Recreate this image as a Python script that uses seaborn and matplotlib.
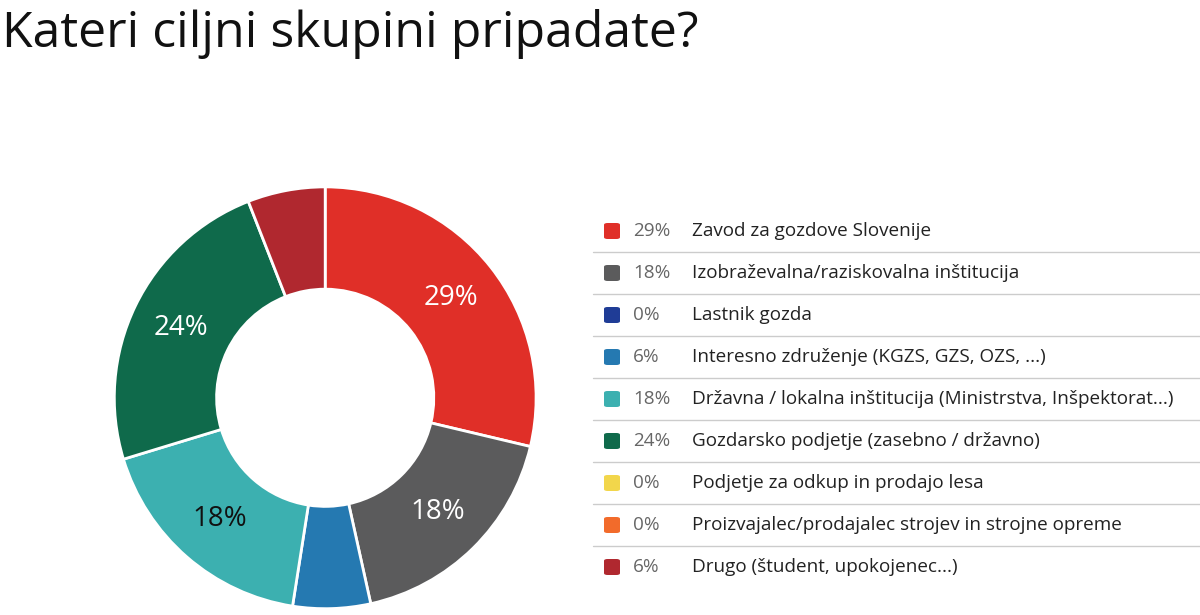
import matplotlib
matplotlib.use("Agg")
import matplotlib.pyplot as plt
import seaborn as sns
import numpy as np

sns.set_theme(style="white")
plt.rcParams['font.family'] = ['Open Sans', 'DejaVu Sans']

# Podatki
categories = ["Zavod za gozdove Slovenije",
              "Izobraževalna/raziskovalna inštitucija",
              "Lastnik gozda",
              "Interesno združenje (KGZS, GZS, OZS, ...)",
              "Državna / lokalna inštitucija (Ministrstva, Inšpektorat...)",
              "Gozdarsko podjetje (zasebno / državno)",
              "Podjetje za odkup in prodajo lesa",
              "Proizvajalec/prodajalec strojev in strojne opreme",
              "Drugo (študent, upokojenec...)"]
values = [29, 18, 0, 6, 18, 24, 0, 0, 6]
colors = ["#e02f28", "#5b5b5c", "#1f3c96", "#2579b1", "#3cb0b0",
          "#0f6a4b", "#f2d64b", "#f26b2b", "#b0282f"]

fig = plt.figure(figsize=(12, 6.15), dpi=100)
fig.text(0.002, 0.945, "Kateri ciljni skupini pripadate?", fontsize=36,
         va="center", ha="left", color="#111111")

# Kolobar
ax = fig.add_axes([0.271 - 0.1775, 0.353 - 0.3463, 0.355, 0.693])
nz = [(v, c) for v, c in zip(values, colors) if v > 0]
wedges, _ = ax.pie([v for v, _ in nz], colors=[c for _, c in nz],
                   startangle=90, counterclock=False,
                   wedgeprops=dict(width=0.485, edgecolor="white", linewidth=2))
ax.set_xlim(-1.01, 1.01)
ax.set_ylim(-1.01, 1.01)
ax.set_aspect("equal")
for w, (v, c) in zip(wedges, nz):
    if v >= 10:
        ang = np.deg2rad((w.theta1 + w.theta2) / 2)
        tc = "#111111" if c == "#3cb0b0" else "white"
        ax.text(0.76 * np.cos(ang), 0.76 * np.sin(ang), f"{v}%",
                ha="center", va="center", fontsize=20, color=tc)

# Legenda
y0 = 615 - 231
for i, (cat, v, c) in enumerate(zip(categories, values, colors)):
    y = (y0 - i * 42) / 615
    fig.patches.append(matplotlib.patches.FancyBboxPatch(
        (604 / 1200, y - 8 / 615), 16 / 1200, 16 / 615,
        boxstyle="round,pad=0,rounding_size=0.003", transform=fig.transFigure,
        facecolor=c, edgecolor="none"))
    fig.text(633 / 1200, y, f"{v}%", fontsize=13.6, va="center", color="#666666")
    fig.text(692 / 1200, y, cat, fontsize=13.6, va="center", color="#222222")
    if i < len(categories) - 1:
        ly = y - 21 / 615
        fig.add_artist(matplotlib.lines.Line2D([593 / 1200, 1.0], [ly, ly],
                                               color="#cccccc", lw=1,
                                               transform=fig.transFigure))

fig.savefig("out.png", dpi=100)
